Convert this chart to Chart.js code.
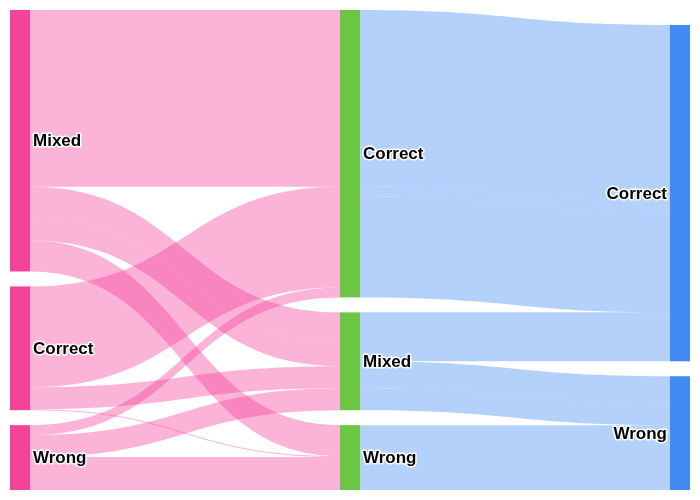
<!DOCTYPE html>
<html>
<head>
<meta charset="utf-8">
<script src="https://cdn.jsdelivr.net/npm/chart.js@4.4.0/dist/chart.umd.min.js"></script>
<style>
  html,body{margin:0;padding:0;background:#fff;}
  #wrap{width:700px;height:500px;}
</style>
</head>
<body>
<div id="wrap"><canvas id="c" width="700" height="500"></canvas></div>
<script>
// columns of nodes (left -> right)
const col0Nodes = ['Mixed','Correct','Wrong'];
const col1Nodes = ['Correct','Mixed','Wrong'];
const col2Nodes = ['Correct','Wrong'];

// stage 1: first column -> middle column
const stage1From   = ['Mixed','Mixed','Mixed','Mixed','Correct','Correct','Correct','Wrong','Wrong','Wrong'];
const stage1To     = ['Correct','Mixed','Mixed','Wrong','Correct','Mixed','Wrong','Correct','Mixed','Wrong'];
const stage1Values = [177,30,24,31,101,22,1,10,22,33];

// stage 2: middle column -> last column
const stage2From   = ['Correct','Correct','Correct','Mixed','Mixed','Mixed','Wrong'];
const stage2To     = ['Correct','Correct','Correct','Correct','Wrong','Wrong','Wrong'];
const stage2Values = [177,10,101,49,27,22,65];

const colColors = ['#f5429b','#6cc644','#418bf3'];
const flowPink = 'rgba(245,66,155,0.4)';
const flowBlue = 'rgba(65,139,243,0.4)';
const nodePad = 15;    // same units as values
const nodeWidth = 20;  // px

(function(){
  const columns = [col0Nodes, col1Nodes, col2Nodes];
  const stages = [
    {from:stage1From, to:stage1To, values:stage1Values, color:flowPink},
    {from:stage2From, to:stage2To, values:stage2Values, color:flowBlue}
  ];

  // node sizes = max(in, out)
  const size = columns.map(c=>c.map(()=>0));
  const sIn = columns.map(c=>c.map(()=>0));
  const sOut = columns.map(c=>c.map(()=>0));
  stages.forEach((s,si)=>{
    s.values.forEach((v,i)=>{
      sOut[si][columns[si].indexOf(s.from[i])] += v;
      sIn[si+1][columns[si+1].indexOf(s.to[i])] += v;
    });
  });
  columns.forEach((c,ci)=>c.forEach((_,ni)=>size[ci][ni]=Math.max(sIn[ci][ni],sOut[ci][ni])));
  const colH = size.map(s=>s.reduce((a,b)=>a+b,0) + nodePad*(s.length-1));
  const yMax = Math.max(...colH);

  // node positions (bottom aligned columns)
  const nodeY = size.map((s,ci)=>{
    let y = yMax - colH[ci];
    return s.map(v=>{ const t=y; y += v + nodePad; return t; });
  });

  // flow offsets
  const flows = [];
  stages.forEach((s,si)=>{
    const idx = s.values.map((_,i)=>i);
    const fi = i=>columns[si].indexOf(s.from[i]);
    const ti = i=>columns[si+1].indexOf(s.to[i]);
    const rec = idx.map(i=>({stage:si, v:s.values[i], f:fi(i), t:ti(i), color:s.color}));
    // outgoing order: by target position, data order
    const outOff = columns[si].map(()=>0);
    [...rec].sort((a,b)=>a.t-b.t).forEach(r=>{ r.y0 = nodeY[si][r.f] + outOff[r.f]; outOff[r.f] += r.v; });
    const inOff = columns[si+1].map(()=>0);
    [...rec].sort((a,b)=>a.f-b.f).forEach(r=>{ r.y1 = nodeY[si+1][r.t] + inOff[r.t]; inOff[r.t] += r.v; });
    flows.push(...rec);
  });

  const sankeyPlugin = {
    id:'sankeyDraw',
    afterDatasetsDraw(chart){
      const ctx = chart.ctx, xs = chart.scales.x, ys = chart.scales.y;
      const nodeLeft = c => xs.getPixelForValue(c) - nodeWidth*c/(columns.length-1);

      // flows
      flows.forEach(f=>{
        const x0 = nodeLeft(f.stage) + nodeWidth, x1 = nodeLeft(f.stage+1);
        const y0t = ys.getPixelForValue(f.y0), y0b = ys.getPixelForValue(f.y0+f.v);
        const y1t = ys.getPixelForValue(f.y1), y1b = ys.getPixelForValue(f.y1+f.v);
        const cx = (x0+x1)/2;
        ctx.save();
        ctx.fillStyle = f.color;
        ctx.beginPath();
        ctx.moveTo(x0,y0t);
        ctx.bezierCurveTo(cx,y0t,cx,y1t,x1,y1t);
        ctx.lineTo(x1,y1b);
        ctx.bezierCurveTo(cx,y1b,cx,y0b,x0,y0b);
        ctx.closePath();
        ctx.fill();
        ctx.restore();
      });

      // nodes
      columns.forEach((c,ci)=>c.forEach((_,ni)=>{
        const top = ys.getPixelForValue(nodeY[ci][ni]);
        const bot = ys.getPixelForValue(nodeY[ci][ni]+size[ci][ni]);
        ctx.fillStyle = colColors[ci];
        ctx.fillRect(nodeLeft(ci), top, nodeWidth, bot-top);
      }));

      // labels
      ctx.save();
      ctx.font = 'bold 17px "Liberation Sans", Arial, sans-serif';
      ctx.textBaseline = 'middle';
      ctx.lineJoin = 'round';
      ctx.lineWidth = 3;
      ctx.strokeStyle = '#fff';
      ctx.fillStyle = '#000';
      columns.forEach((c,ci)=>c.forEach((name,ni)=>{
        const mid = ys.getPixelForValue(nodeY[ci][ni]+size[ci][ni]/2) + 1;
        const last = ci===columns.length-1;
        ctx.textAlign = last ? 'right' : 'left';
        const x = last ? nodeLeft(ci)-3 : nodeLeft(ci)+nodeWidth+3;
        ctx.strokeText(name, x, mid);
        ctx.fillText(name, x, mid);
      }));
      ctx.restore();
    }
  };

  new Chart(document.getElementById('c'), {
    type:'scatter',
    data:{datasets:[{data:[]}]},
    options:{
      responsive:false, animation:false,
      layout:{padding:10},
      scales:{
        x:{type:'linear', min:0, max:columns.length-1, display:false},
        y:{type:'linear', min:0, max:yMax, reverse:true, display:false}
      },
      plugins:{legend:{display:false}, tooltip:{enabled:false}}
    },
    plugins:[sankeyPlugin]
  });
})();
</script>
</body>
</html>
